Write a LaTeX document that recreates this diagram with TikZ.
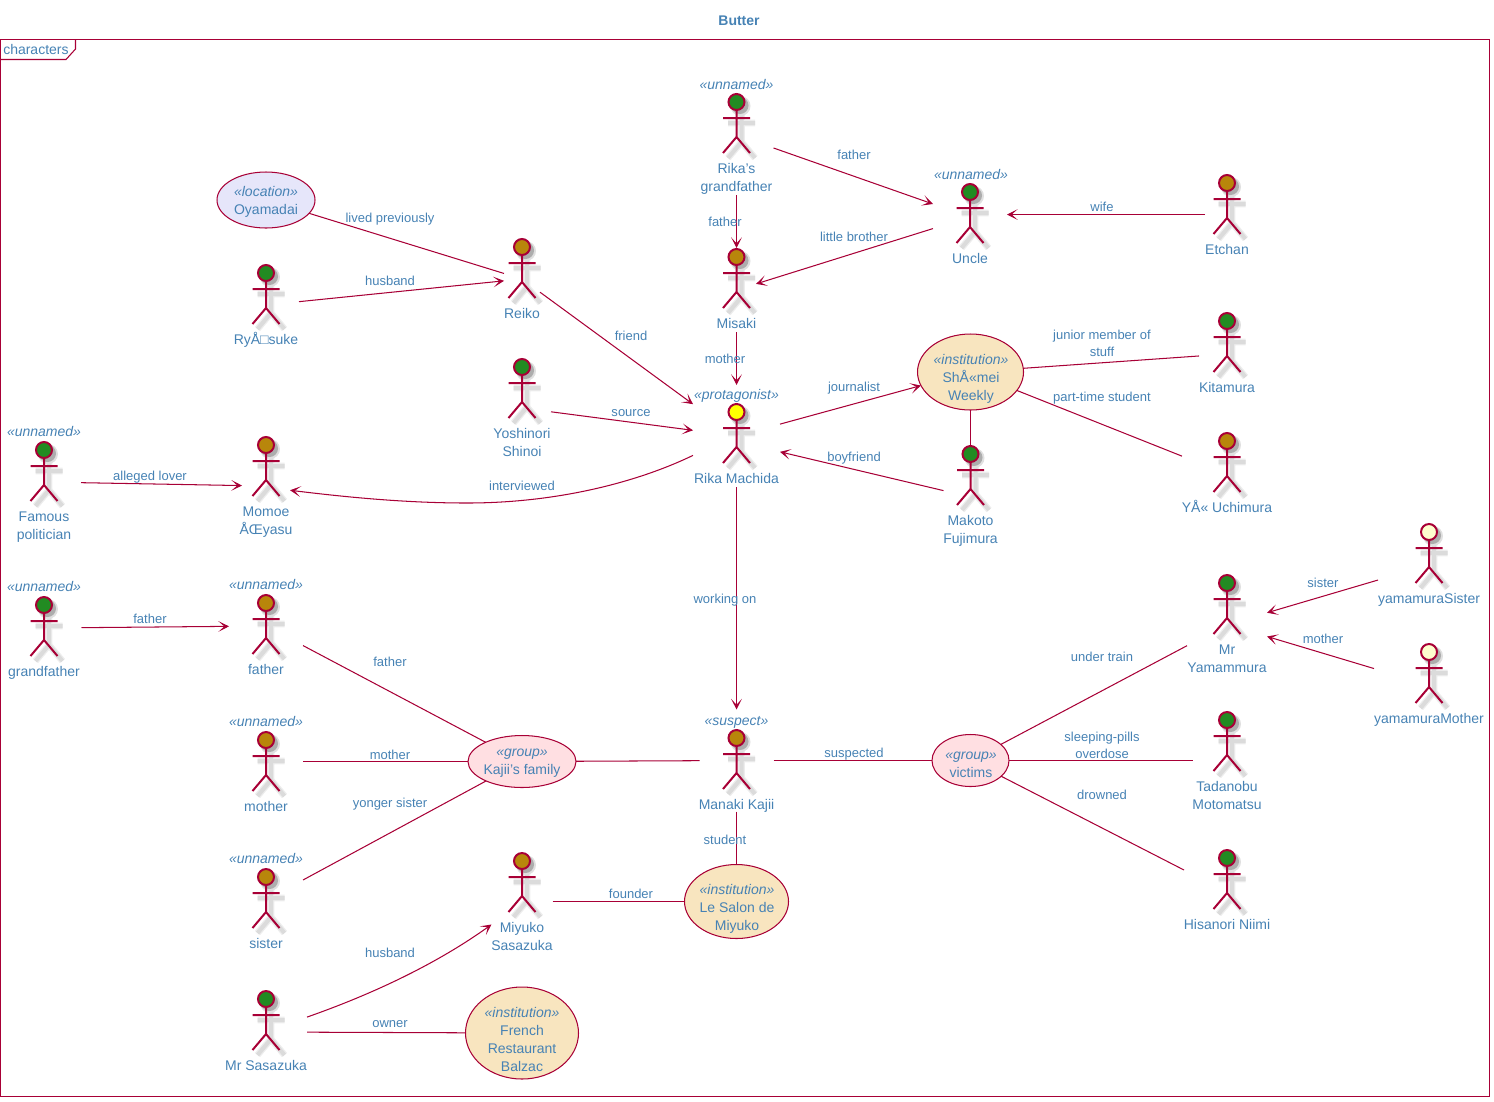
\documentclass[tikz,border=0pt]{standalone}
\usepackage{fontspec}
\setmainfont{Liberation Sans}
\usepackage{xcolor}
\usetikzlibrary{positioning, arrows.meta, shapes.geometric}
\definecolor{umlline}{HTML}{A80036}
\definecolor{umltext}{HTML}{4682B4}
\definecolor{headgreen}{HTML}{228B22}
\definecolor{headbrown}{HTML}{B8860B}
\definecolor{headyellow}{HTML}{FFFF00}
\definecolor{headpale}{HTML}{FEFECE}
\definecolor{fillplace}{HTML}{E6E6FA}
\definecolor{fillinst}{HTML}{F8E5BF}
\definecolor{fillgroup}{HTML}{FFDFE2}
\tikzset{
  rel/.style={umlline,line width=0.78pt},
  relarrow/.style={rel,-{Stealth[length=8pt,width=8pt,inset=4.5pt]}},
  txt/.style={text=umltext,inner sep=0pt,align=center},
  edgelabel/.style={txt,font=\fontsize{9.75}{12.75}\selectfont,yshift=-0.75pt},
  namelabel/.style={txt,font=\fontsize{10.5}{13.5}\selectfont},
  stereo/.style={namelabel,font=\fontsize{10.5}{13.5}\selectfont\itshape,yshift=-1.1pt},
  actorbox/.style={inner sep=0pt,outer sep=0pt},
  usecase/.style={ellipse,draw=umlline,line width=0.78pt,outer sep=0pt,inner sep=0pt},
  stickman/.pic={
    \foreach \w/\o/\s in {5pt/7/5,3pt/14/5}{
      \begin{scope}[black!\o,line width=\w,shift={(\s,\s)}]
        \draw (0,8)--(0,35) (-13.5,16)--(13.5,16) (-13.5,51)--(0,35)--(13.5,51);
      \end{scope}
    }
    \fill[black!12] (4,4) circle (10);
    \fill[black!32] (3.5,3.5) circle (8.5);
    \draw[umlline,line width=1.5pt,fill=#1] (0,0) circle (8);
    \draw[umlline,line width=1.5pt] (0,8)--(0,35) (-13.5,16)--(13.5,16) (-13.5,51)--(0,35)--(13.5,51);
  }
}
% name, x, y of the head, y of the box, box width, box height, colour, text
\newcommand{\actorfig}[8]{
  \node[actorbox,minimum width=#5*0.75pt,minimum height=#6*0.75pt] (#1) at (#2,#4) {};
  \pic at (#2,#3) {stickman=#7};
  \node[namelabel,anchor=north] (#1-name) at (#2,#3+58.5) {\strut #8};
}
\begin{document}
\begin{tikzpicture}[x=0.75pt,y=-0.75pt]
\useasboundingbox (0,0) rectangle (1494,1101);
\node[namelabel,font=\fontsize{10.5}{13.5}\selectfont\bfseries] (title) at (739,22) {\strut Butter};
\draw[umlline,line width=0.8pt] (0.5,39.5) rectangle (1489.5,1096.5);
\draw[umlline,line width=0.8pt] (0.5,59.5)--(66,59.5)--(75.5,49)--(75.5,39.5);
\node[namelabel,anchor=west] (framename) at (3,51) {\strut characters};

\actorfig{rikagf}{736.5}{102}{135}{74}{120}{headgreen}{Rika's\\grandfather}
\actorfig{uncle}{970}{192}{217}{74}{102}{headgreen}{Uncle}
\actorfig{etchan}{1227}{183}{214.5}{44}{83}{headbrown}{Etchan}
\actorfig{misaki}{736.5}{257}{290}{39}{84}{headbrown}{Misaki}
\actorfig{reiko}{522}{247}{279}{36}{83}{headbrown}{Reiko}
\actorfig{ryosuke}{266}{273}{305}{66}{83}{headgreen}{RyÅ□suke}
\actorfig{yoshinori}{522}{367}{408}{58}{102}{headgreen}{Yoshinori\\Shinoi}
\actorfig{rika}{736.5}{412}{436}{87}{102}{headyellow}{Rika Machida}
\actorfig{kitamura}{1227}{321}{354}{56}{83}{headgreen}{Kitamura}
\actorfig{uchimura}{1227}{441}{474}{90}{83}{headbrown}{YÅ« Uchimura}
\actorfig{makoto}{970.5}{454}{497}{54}{102}{headgreen}{Makoto\\Fujimura}
\actorfig{momoe}{266}{445}{486}{48}{102}{headbrown}{Momoe\\ÅŒyasu}
\actorfig{politician}{44}{450}{482}{74}{120}{headgreen}{Famous\\politician}
\actorfig{gdfather}{44}{605}{628}{75}{102}{headgreen}{grandfather}
\actorfig{father}{266}{603}{626}{74}{102}{headbrown}{father}
\actorfig{mother}{266}{740}{761.5}{74}{102}{headbrown}{mother}
\actorfig{sister}{266}{877}{900}{74}{102}{headbrown}{sister}
\actorfig{miyuko}{522}{861}{901.5}{61}{102}{headbrown}{Miyuko\\Sasazuka}
\actorfig{sasazuka}{266}{999}{1032}{82}{83}{headgreen}{Mr Sasazuka}
\actorfig{kajii}{736.5}{738}{760.5}{74}{102}{headbrown}{Manaki Kajii}
\actorfig{yamammura}{1227}{583}{624.5}{80}{102}{headgreen}{Mr\\Yamammura}
\actorfig{tadanobu}{1227}{720}{760.5}{68}{102}{headgreen}{Tadanobu\\Motomatsu}
\actorfig{niimi}{1227}{858}{892}{86}{83}{headgreen}{Hisanori Niimi}
\actorfig{ysister}{1429}{532}{565}{102}{83}{headpale}{yamamuraSister}
\actorfig{ymother}{1429}{652}{685}{110}{83}{headpale}{yamamuraMother}

\foreach \nm/\x/\y/\lab in {rikagf/736.5/84/unnamed,uncle/971/174/unnamed,rika/736.5/394/protagonist,
  politician/44/431/unnamed,gdfather/44/586/unnamed,father/266/584/unnamed,mother/266/721/unnamed,
  sister/266/858/unnamed,kajii/736.5/720/suspect}{
  \node[stereo] (\nm-st) at (\x,\y) {\strut«\lab»};
}

\node[usecase,fill=fillplace,minimum width=98*0.75pt,minimum height=56*0.75pt] (oyamadai) at (266,200) {};
\node[usecase,fill=fillinst,minimum width=106*0.75pt,minimum height=76*0.75pt] (shumei) at (970.5,372) {};
\node[usecase,fill=fillinst,minimum width=104*0.75pt,minimum height=74*0.75pt] (salon) at (736.5,901.5) {};
\node[usecase,fill=fillinst,minimum width=113*0.75pt,minimum height=92*0.75pt] (french) at (522,1033) {};
\node[usecase,fill=fillgroup,minimum width=108*0.75pt,minimum height=52*0.75pt] (family) at (522,761.5) {};
\node[usecase,fill=fillgroup,minimum width=77*0.75pt,minimum height=52*0.75pt] (victims) at (970.5,760.5) {};
\node[namelabel] (oyamadai-text) at (266,201.5) {\strut\textit{«location»}\\Oyamadai\strut};
\node[namelabel] (shumei-text) at (971,378.5) {\strut\textit{«institution»}\\ShÅ«mei\\Weekly\strut};
\node[namelabel] (salon-text) at (737,908.5) {\strut\textit{«institution»}\\Le Salon de\\Miyuko\strut};
\node[namelabel] (french-text) at (522,1040.5) {\strut\textit{«institution»}\\French\\Restaurant\\Balzac\strut};
\node[namelabel] (family-text) at (522,762) {\strut\textit{«group»}\\Kajii's family\strut};
\node[namelabel] (victims-text) at (971,765) {\strut\textit{«group»}\\victims\strut};

\foreach \a/\b in {rikagf/uncle,rikagf/misaki,uncle/misaki,misaki/rika,ryosuke/reiko,
  reiko/rika,yoshinori/rika,rika/shumei,politician/momoe,rika/kajii,gdfather/father,
  ysister/yamammura,ymother/yamammura}{
  \draw[relarrow] (\a) -- (\b);
}
\draw[relarrow] (etchan) -- (uncle.east |- etchan);
\draw[relarrow] (makoto) -- (rika.340);
\foreach \a/\b in {oyamadai/reiko,shumei/makoto,shumei/kitamura,shumei/uchimura,father/family,
  mother/family,sister/family,family/kajii,kajii/victims,kajii/salon,miyuko/salon,sasazuka/french,
  victims/yamammura,victims/tadanobu,victims/niimi}{
  \draw[rel] (\a) -- (\b);
}
\draw[relarrow] (rika.204.7) .. controls (640,481) and (560,503) .. (467,503) .. controls (405,503) and (345,497) .. (momoe.350);
\draw[relarrow] (sasazuka.20) .. controls (370,995) and (435,965) .. (miyuko.217.6);

\foreach \i/\x/\y/\lab in {a/854/155/father,b/725/222/father,c/854/237/little brother,d/1102/207/wife,
  e/390/218/lived previously,f/390/281/husband,g/631/336/friend,h/725/359/mother,i/854/387/journalist,
  j/1102/343.5/junior member of\\stuff,k/1102/397/part-time student,l/631/412/source,m/854/457/boyfriend,
  n/150/476/alleged lover,o/522/486/interviewed,p/725/599/working on,q/150/619/father,r/390/662/father,
  s/1323/583/sister,t/1323/639/mother,u/1102/657/under train,v/390/755/mother,w/854/753/suspected,
  x/1102/745.5/sleeping-pills\\overdose,y/390/803/yonger sister,z/1102/795/drowned,
  aa/725/840/student,ab/631/894/founder,ac/390/953/husband,ad/390/1023/owner}{
  \node[edgelabel] (lab\i) at (\x,\y) {\strut\lab\strut};
}
\end{tikzpicture}
\end{document}
